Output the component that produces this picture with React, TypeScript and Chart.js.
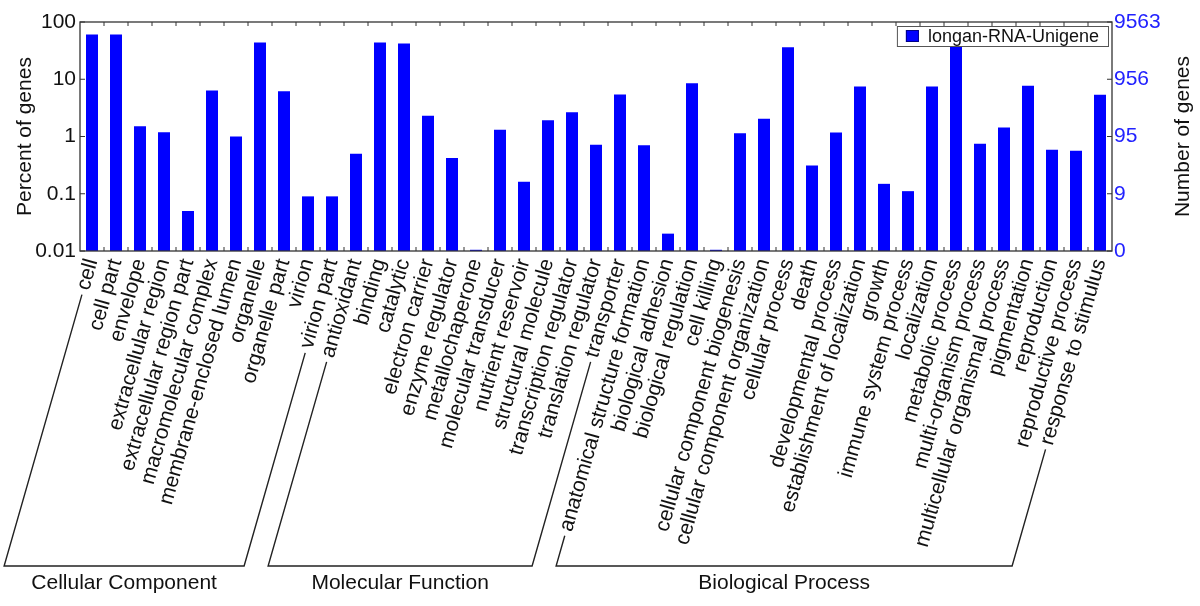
import React, { useEffect, useRef } from 'react';
import { Chart, registerables } from 'chart.js';

Chart.register(...registerables);

const categories = [
  'cell', 'cell part', 'envelope', 'extracellular region', 'extracellular region part',
  'macromolecular complex', 'membrane-enclosed lumen', 'organelle', 'organelle part', 'virion', 'virion part',
  'antioxidant', 'binding', 'catalytic', 'electron carrier', 'enzyme regulator', 'metallochaperone',
  'molecular transducer', 'nutrient reservoir', 'structural molecule', 'transcription regulator',
  'translation regulator', 'transporter',
  'anatomical structure formation', 'biological adhesion', 'biological regulation', 'cell killing',
  'cellular component biogenesis', 'cellular component organization', 'cellular process', 'death',
  'developmental process', 'establishment of localization', 'growth', 'immune system process',
  'localization', 'metabolic process', 'multi-organism process', 'multicellular organismal process',
  'pigmentation', 'reproduction', 'reproductive process', 'response to stimulus',
];

const percentValues = [
  60.5, 60.5, 1.51, 1.19, 0.05, 6.35, 1.0, 43.8, 6.2, 0.09, 0.09,
  0.5, 43.8, 42, 2.3, 0.42, 0.0105, 1.31, 0.162, 1.93, 2.66, 0.72, 5.42,
  0.7, 0.0201, 8.5, 0.0105, 1.14, 2.04, 36.4, 0.31, 1.17, 7.47, 0.149, 0.111,
  7.47, 55, 0.745, 1.44, 7.68, 0.585, 0.563, 5.35,
];

const groupNames = ['Cellular Component', 'Molecular Function', 'Biological Process'];
const groupSizes = [11, 12, 20];

const leftTickValues = [0.01, 0.1, 1, 10, 100];
const leftTickLabels = ['0.01', '0.1', '1', '10', '100'];
const rightTickLabels = ['0', '9', '95', '956', '9563'];

const seriesName = 'longan-RNA-Unigene';
const leftTitle = 'Percent of genes';
const rightTitle = 'Number of genes';

const FONT = '"Liberation Sans", Arial, Helvetica, sans-serif';
const BAR_BLUE = '#0000ff';
const AXIS_BLUE = '#2222ff';
const TEXT = '#111111';
const FRAME = '#333333';

const decorPlugin = {
  id: 'decor',
  afterDraw(chart: any) {
    const ctx = chart.ctx;
    const area = chart.chartArea;
    const xs = chart.scales.x;
    const ys = chart.scales.y;
    ctx.save();

    // frame
    ctx.strokeStyle = FRAME;
    ctx.lineWidth = 1.3;
    ctx.strokeRect(area.left, area.top, area.right - area.left, area.bottom - area.top);

    // x ticks at category boundaries (inward, top and bottom)
    ctx.lineWidth = 1;
    ctx.beginPath();
    for (let i = 1; i < categories.length; i++) {
      const bx = (xs.getPixelForValue(i - 1) + xs.getPixelForValue(i)) / 2;
      ctx.moveTo(bx, area.top);
      ctx.lineTo(bx, area.top + 4);
      ctx.moveTo(bx, area.bottom);
      ctx.lineTo(bx, area.bottom - 4);
    }
    // y ticks inward
    leftTickValues.forEach((v) => {
      const py = ys.getPixelForValue(v);
      ctx.moveTo(area.left, py);
      ctx.lineTo(area.left + 5, py);
      ctx.moveTo(area.right, py);
      ctx.lineTo(area.right - 5, py);
    });
    ctx.stroke();

    // axis titles
    ctx.fillStyle = TEXT;
    ctx.font = `21px ${FONT}`;
    ctx.textAlign = 'center';
    ctx.textBaseline = 'middle';
    const cy = (area.top + area.bottom) / 2;
    ctx.save();
    ctx.translate(25, cy);
    ctx.rotate(-Math.PI / 2);
    ctx.fillText(leftTitle, 0, 0);
    ctx.restore();
    ctx.save();
    ctx.translate(1183, cy);
    ctx.rotate(-Math.PI / 2);
    ctx.fillText(rightTitle, 0, 0);
    ctx.restore();

    // legend (drawn over bars)
    ctx.font = `18px ${FONT}`;
    const tw = ctx.measureText(seriesName).width;
    const lw = 9 + 13 + 9 + tw + 9;
    const lh = 20;
    const lx = area.right - 4 - lw;
    const ly = area.top + 4;
    ctx.fillStyle = '#ffffff';
    ctx.fillRect(lx, ly, lw, lh);
    ctx.strokeStyle = '#555555';
    ctx.lineWidth = 1;
    ctx.strokeRect(lx + 0.5, ly + 0.5, lw, lh);
    ctx.fillStyle = BAR_BLUE;
    ctx.fillRect(lx + 9, ly + 4, 13, 12);
    ctx.strokeStyle = '#000088';
    ctx.strokeRect(lx + 9.5, ly + 4.5, 12, 11);
    ctx.fillStyle = TEXT;
    ctx.textAlign = 'left';
    ctx.textBaseline = 'middle';
    ctx.fillText(seriesName, lx + 31, ly + lh / 2 + 1);

    // group brackets
    const items = xs.getLabelItems ? xs.getLabelItems() : xs._labelItems;
    ctx.font = `21px ${FONT}`;
    const bottomY = 566;
    const gap = 5;
    let start = 0;
    groupSizes.forEach((size, g) => {
      const ends = [start, start + size - 1].map((i) => {
        const it = items[i];
        const opts = it.options || it;
        const tx = opts.translation[0];
        const ty = opts.translation[1];
        const r = opts.rotation;
        const cr = Math.cos(r);
        const sr = Math.sin(r);
        const off = it.textOffset || 0;
        const ox = tx - off * sr;
        const oy = ty + off * cr;
        const w = ctx.measureText(categories[i]).width;
        const dx = -cr;
        const dy = -sr;
        const sx = ox + dx * (w + gap);
        const sy = oy + dy * (w + gap);
        const t = (bottomY - sy) / dy;
        return { sx, sy, bx: sx + dx * t };
      });
      ctx.strokeStyle = '#222222';
      ctx.lineWidth = 1.4;
      ctx.beginPath();
      ctx.moveTo(ends[0].sx, ends[0].sy);
      ctx.lineTo(ends[0].bx, bottomY);
      ctx.lineTo(ends[1].bx, bottomY);
      ctx.lineTo(ends[1].sx, ends[1].sy);
      ctx.stroke();
      ctx.fillStyle = TEXT;
      ctx.font = `21px ${FONT}`;
      ctx.textAlign = 'center';
      ctx.textBaseline = 'alphabetic';
      ctx.fillText(groupNames[g], (ends[0].bx + ends[1].bx) / 2, 589);
      start += size;
    });

    ctx.restore();
  },
};

export default function App() {
  const canvasRef = useRef<HTMLCanvasElement | null>(null);

  useEffect(() => {
    document.body.style.margin = '0';
    const canvas = canvasRef.current;
    if (!canvas) return;
    const chart = new Chart(canvas, {
      type: 'bar',
      data: {
        labels: categories,
        datasets: [
          {
            label: seriesName,
            data: percentValues,
            backgroundColor: BAR_BLUE,
            borderWidth: 0,
            barPercentage: 0.5,
            categoryPercentage: 1.0,
            yAxisID: 'y',
          },
        ],
      },
      options: {
        responsive: false,
        animation: false,
        devicePixelRatio: 1,
        layout: { padding: { top: 22, left: 0, right: 0, bottom: 0 } },
        plugins: {
          legend: { display: false },
          tooltip: { enabled: false },
        },
        scales: {
          x: {
            type: 'category',
            offset: true,
            grid: { display: false, drawTicks: false },
            border: { display: false },
            ticks: {
              autoSkip: false,
              minRotation: 74,
              maxRotation: 74,
              padding: 5,
              color: TEXT,
              font: { family: FONT, size: 21 },
            },
            afterFit: (s: any) => {
              s.height = 355;
            },
          },
          y: {
            type: 'logarithmic',
            position: 'left',
            min: 0.01,
            max: 100,
            grid: { display: false, drawTicks: false },
            border: { display: false },
            afterBuildTicks: (s: any) => {
              s.ticks = leftTickValues.map((v) => ({ value: v }));
            },
            ticks: {
              padding: 4,
              color: TEXT,
              font: { family: FONT, size: 21 },
              callback: (_v: any, i: number) => leftTickLabels[i],
            },
            afterFit: (s: any) => {
              s.width = 80;
            },
          },
          y2: {
            type: 'logarithmic',
            position: 'right',
            min: 0.01,
            max: 100,
            grid: { display: false, drawTicks: false },
            border: { display: false },
            afterBuildTicks: (s: any) => {
              s.ticks = leftTickValues.map((v) => ({ value: v }));
            },
            ticks: {
              padding: 2,
              color: AXIS_BLUE,
              font: { family: FONT, size: 21 },
              callback: (_v: any, i: number) => rightTickLabels[i],
            },
            afterFit: (s: any) => {
              s.width = 88;
            },
          },
        },
      },
      plugins: [decorPlugin],
    });
    return () => chart.destroy();
  }, []);

  return (
    <div style={{ width: 1200, height: 606, background: '#fff' }}>
      <canvas ref={canvasRef} width={1200} height={606} style={{ display: 'block' }} />
    </div>
  );
}
